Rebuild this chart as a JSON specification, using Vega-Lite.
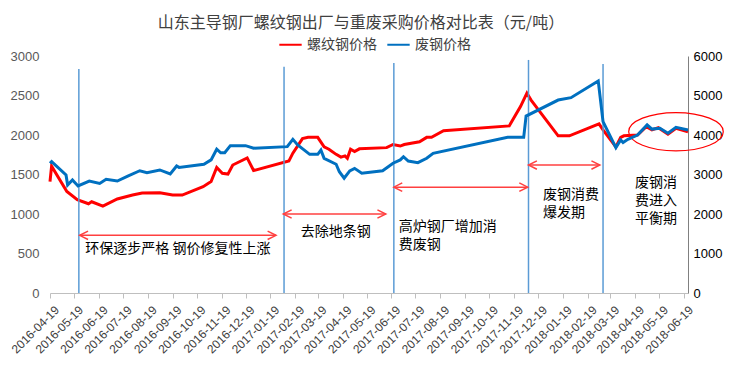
{
  "$schema": "https://vega.github.io/schema/vega-lite/v6.json",
  "autosize": {"type": "none"},
  "padding": {"left": 50, "top": 56, "right": 44, "bottom": 76},
  "width": 638,
  "height": 237,
  "background": "#ffffff",
  "title": {"text": "山东主导钢厂螺纹钢出厂与重废采购价格对比表（元/吨）", "fontSize": 16, "font": "Noto Sans CJK SC", "fontWeight": "normal", "color": "#404040", "anchor": "middle", "offset": 1, "dx": -8},
  "config": {
    "view": {"stroke": null},
    "axis": {"grid": false, "labelFont": "Liberation Sans", "labelOverlap": false},
    "legend": {"labelFont": "Noto Sans CJK SC"}
  },
  "datasets": {
    "rebar": [
      {"date": "2016-04-19", "price": 1410, "series": "螺纹钢价格"},
      {"date": "2016-04-21", "price": 1605, "series": "螺纹钢价格"},
      {"date": "2016-05-10", "price": 1285, "series": "螺纹钢价格"},
      {"date": "2016-05-23", "price": 1180, "series": "螺纹钢价格"},
      {"date": "2016-06-06", "price": 1130, "series": "螺纹钢价格"},
      {"date": "2016-06-10", "price": 1155, "series": "螺纹钢价格"},
      {"date": "2016-06-24", "price": 1100, "series": "螺纹钢价格"},
      {"date": "2016-07-12", "price": 1190, "series": "螺纹钢价格"},
      {"date": "2016-07-31", "price": 1240, "series": "螺纹钢价格"},
      {"date": "2016-08-12", "price": 1265, "series": "螺纹钢价格"},
      {"date": "2016-09-03", "price": 1270, "series": "螺纹钢价格"},
      {"date": "2016-09-19", "price": 1240, "series": "螺纹钢价格"},
      {"date": "2016-10-01", "price": 1240, "series": "螺纹钢价格"},
      {"date": "2016-10-27", "price": 1345, "series": "螺纹钢价格"},
      {"date": "2016-11-06", "price": 1410, "series": "螺纹钢价格"},
      {"date": "2016-11-13", "price": 1590, "series": "螺纹钢价格"},
      {"date": "2016-11-20", "price": 1515, "series": "螺纹钢价格"},
      {"date": "2016-11-27", "price": 1505, "series": "螺纹钢价格"},
      {"date": "2016-12-03", "price": 1620, "series": "螺纹钢价格"},
      {"date": "2016-12-21", "price": 1710, "series": "螺纹钢价格"},
      {"date": "2016-12-29", "price": 1550, "series": "螺纹钢价格"},
      {"date": "2017-02-11", "price": 1670, "series": "螺纹钢价格"},
      {"date": "2017-02-16", "price": 1770, "series": "螺纹钢价格"},
      {"date": "2017-02-28", "price": 1955, "series": "螺纹钢价格"},
      {"date": "2017-03-07", "price": 1970, "series": "螺纹钢价格"},
      {"date": "2017-03-19", "price": 1970, "series": "螺纹钢价格"},
      {"date": "2017-03-27", "price": 1850, "series": "螺纹钢价格"},
      {"date": "2017-04-02", "price": 1820, "series": "螺纹钢价格"},
      {"date": "2017-04-11", "price": 1755, "series": "螺纹钢价格"},
      {"date": "2017-04-17", "price": 1720, "series": "螺纹钢价格"},
      {"date": "2017-04-22", "price": 1735, "series": "螺纹钢价格"},
      {"date": "2017-04-25", "price": 1705, "series": "螺纹钢价格"},
      {"date": "2017-04-29", "price": 1820, "series": "螺纹钢价格"},
      {"date": "2017-05-04", "price": 1790, "series": "螺纹钢价格"},
      {"date": "2017-05-10", "price": 1825, "series": "螺纹钢价格"},
      {"date": "2017-06-13", "price": 1840, "series": "螺纹钢价格"},
      {"date": "2017-06-21", "price": 1880, "series": "螺纹钢价格"},
      {"date": "2017-06-30", "price": 1860, "series": "螺纹钢价格"},
      {"date": "2017-07-05", "price": 1880, "series": "螺纹钢价格"},
      {"date": "2017-07-24", "price": 1915, "series": "螺纹钢价格"},
      {"date": "2017-08-02", "price": 1970, "series": "螺纹钢价格"},
      {"date": "2017-08-08", "price": 1970, "series": "螺纹钢价格"},
      {"date": "2017-08-23", "price": 2055, "series": "螺纹钢价格"},
      {"date": "2017-11-13", "price": 2115, "series": "螺纹钢价格"},
      {"date": "2017-11-27", "price": 2360, "series": "螺纹钢价格"},
      {"date": "2017-12-05", "price": 2530, "series": "螺纹钢价格"},
      {"date": "2017-12-10", "price": 2445, "series": "螺纹钢价格"},
      {"date": "2018-01-13", "price": 1990, "series": "螺纹钢价格"},
      {"date": "2018-01-27", "price": 1990, "series": "螺纹钢价格"},
      {"date": "2018-03-05", "price": 2140, "series": "螺纹钢价格"},
      {"date": "2018-03-10", "price": 2065, "series": "螺纹钢价格"},
      {"date": "2018-03-26", "price": 1850, "series": "螺纹钢价格"},
      {"date": "2018-04-01", "price": 1970, "series": "螺纹钢价格"},
      {"date": "2018-04-05", "price": 1990, "series": "螺纹钢价格"},
      {"date": "2018-04-22", "price": 2000, "series": "螺纹钢价格"},
      {"date": "2018-05-03", "price": 2105, "series": "螺纹钢价格"},
      {"date": "2018-05-10", "price": 2065, "series": "螺纹钢价格"},
      {"date": "2018-05-18", "price": 2093, "series": "螺纹钢价格"},
      {"date": "2018-05-30", "price": 2010, "series": "螺纹钢价格"},
      {"date": "2018-06-09", "price": 2085, "series": "螺纹钢价格"},
      {"date": "2018-06-24", "price": 2040, "series": "螺纹钢价格"}
    ],
    "scrap": [
      {"date": "2016-04-19", "price": 3285, "series": "废钢价格"},
      {"date": "2016-04-21", "price": 3325, "series": "废钢价格"},
      {"date": "2016-05-09", "price": 2990, "series": "废钢价格"},
      {"date": "2016-05-11", "price": 2735, "series": "废钢价格"},
      {"date": "2016-05-17", "price": 2860, "series": "废钢价格"},
      {"date": "2016-05-24", "price": 2710, "series": "废钢价格"},
      {"date": "2016-06-07", "price": 2835, "series": "废钢价格"},
      {"date": "2016-06-20", "price": 2775, "series": "废钢价格"},
      {"date": "2016-06-28", "price": 2880, "series": "废钢价格"},
      {"date": "2016-07-12", "price": 2835, "series": "废钢价格"},
      {"date": "2016-07-25", "price": 2960, "series": "废钢价格"},
      {"date": "2016-08-09", "price": 3095, "series": "废钢价格"},
      {"date": "2016-08-18", "price": 3045, "series": "废钢价格"},
      {"date": "2016-09-03", "price": 3115, "series": "废钢价格"},
      {"date": "2016-09-16", "price": 3015, "series": "废钢价格"},
      {"date": "2016-09-24", "price": 3215, "series": "废钢价格"},
      {"date": "2016-09-27", "price": 3180, "series": "废钢价格"},
      {"date": "2016-10-28", "price": 3260, "series": "废钢价格"},
      {"date": "2016-11-06", "price": 3370, "series": "废钢价格"},
      {"date": "2016-11-13", "price": 3640, "series": "废钢价格"},
      {"date": "2016-11-18", "price": 3550, "series": "废钢价格"},
      {"date": "2016-11-23", "price": 3550, "series": "废钢价格"},
      {"date": "2016-11-30", "price": 3730, "series": "废钢价格"},
      {"date": "2016-12-19", "price": 3730, "series": "废钢价格"},
      {"date": "2016-12-29", "price": 3665, "series": "废钢价格"},
      {"date": "2017-02-09", "price": 3705, "series": "废钢价格"},
      {"date": "2017-02-16", "price": 3890, "series": "废钢价格"},
      {"date": "2017-02-22", "price": 3750, "series": "废钢价格"},
      {"date": "2017-03-09", "price": 3510, "series": "废钢价格"},
      {"date": "2017-03-19", "price": 3510, "series": "废钢价格"},
      {"date": "2017-03-23", "price": 3620, "series": "废钢价格"},
      {"date": "2017-03-27", "price": 3410, "series": "废钢价格"},
      {"date": "2017-04-11", "price": 3260, "series": "废钢价格"},
      {"date": "2017-04-15", "price": 3070, "series": "废钢价格"},
      {"date": "2017-04-21", "price": 2905, "series": "废钢价格"},
      {"date": "2017-04-28", "price": 3090, "series": "废钢价格"},
      {"date": "2017-05-04", "price": 3155, "series": "废钢价格"},
      {"date": "2017-05-13", "price": 3030, "series": "废钢价格"},
      {"date": "2017-06-08", "price": 3095, "series": "废钢价格"},
      {"date": "2017-06-21", "price": 3285, "series": "废钢价格"},
      {"date": "2017-06-30", "price": 3370, "series": "废钢价格"},
      {"date": "2017-07-04", "price": 3450, "series": "废钢价格"},
      {"date": "2017-07-10", "price": 3340, "series": "废钢价格"},
      {"date": "2017-07-22", "price": 3300, "series": "废钢价格"},
      {"date": "2017-08-02", "price": 3410, "series": "废钢价格"},
      {"date": "2017-08-10", "price": 3535, "series": "废钢价格"},
      {"date": "2017-11-11", "price": 3940, "series": "废钢价格"},
      {"date": "2017-12-01", "price": 3940, "series": "废钢价格"},
      {"date": "2017-12-04", "price": 4480, "series": "废钢价格"},
      {"date": "2018-01-13", "price": 4885, "series": "废钢价格"},
      {"date": "2018-01-29", "price": 4945, "series": "废钢价格"},
      {"date": "2018-03-04", "price": 5370, "series": "废钢价格"},
      {"date": "2018-03-10", "price": 4340, "series": "废钢价格"},
      {"date": "2018-03-26", "price": 3680, "series": "废钢价格"},
      {"date": "2018-04-01", "price": 3875, "series": "废钢价格"},
      {"date": "2018-04-04", "price": 3810, "series": "废钢价格"},
      {"date": "2018-04-10", "price": 3890, "series": "废钢价格"},
      {"date": "2018-04-22", "price": 4000, "series": "废钢价格"},
      {"date": "2018-05-04", "price": 4255, "series": "废钢价格"},
      {"date": "2018-05-10", "price": 4150, "series": "废钢价格"},
      {"date": "2018-05-20", "price": 4170, "series": "废钢价格"},
      {"date": "2018-05-30", "price": 4045, "series": "废钢价格"},
      {"date": "2018-06-09", "price": 4195, "series": "废钢价格"},
      {"date": "2018-06-24", "price": 4125, "series": "废钢价格"}
    ],
    "vlines": [
      {"date": "2016-05-25", "top": 2836, "base": 0},
      {"date": "2017-02-05", "top": 2865, "base": 0},
      {"date": "2017-06-22", "top": 2912, "base": 0},
      {"date": "2017-12-07", "top": 2950, "base": 0},
      {"date": "2018-03-10", "top": 2900, "base": 0}
    ],
    "arrows": [
      {"start": "2016-05-26", "end": "2017-01-26", "level": 730},
      {"start": "2017-02-04", "end": "2017-06-12", "level": 1000},
      {"start": "2017-06-22", "end": "2017-12-06", "level": 1340},
      {"start": "2017-12-07", "end": "2018-03-06", "level": 1620}
    ],
    "labels": [
      {"date": "2016-06-02", "level": 646, "label": "环保逐步严格 钢价修复性上涨"},
      {"date": "2017-02-26", "level": 865, "label": "去除地条钢"},
      {"date": "2017-06-28", "level": 928, "label": "高炉钢厂增加消\n费废钢"},
      {"date": "2017-12-25", "level": 1329, "label": "废钢消费\n爆发期"},
      {"date": "2018-04-19", "level": 1485, "label": "废钢消\n费进入\n平衡期"}
    ],
    "ellipse": [
      {"date": "2018-06-09", "level": 2042}
    ]
  },
  "layer": [
    {
      "layer": [
        {
          "data": {"name": "rebar"},
          "mark": {"type": "line", "strokeWidth": 3},
          "encoding": {
            "x": {
              "field": "date", "type": "temporal", "title": null,
              "scale": {"type": "utc", "domain": [{"year": 2016, "month": 4, "date": 19, "utc": true}, {"year": 2018, "month": 6, "date": 24, "utc": true}]},
              "axis": {
                "format": "%Y-%m-%d", "labelAngle": -45, "labelAlign": "right", "labelBaseline": "top",
                "labelFontSize": 12, "labelColor": "#404040", "labelPadding": 6, "labelOffset": 3, "labelOverlap": false, "tickCount": 40,
                "domainColor": "#bfbfbf", "tickColor": "#bfbfbf", "tickSize": 5,
                "values": [
                  {"year": 2016, "month": 4, "date": 19, "utc": true}, {"year": 2016, "month": 5, "date": 19, "utc": true},
                  {"year": 2016, "month": 6, "date": 19, "utc": true}, {"year": 2016, "month": 7, "date": 19, "utc": true},
                  {"year": 2016, "month": 8, "date": 19, "utc": true}, {"year": 2016, "month": 9, "date": 19, "utc": true},
                  {"year": 2016, "month": 10, "date": 19, "utc": true}, {"year": 2016, "month": 11, "date": 19, "utc": true},
                  {"year": 2016, "month": 12, "date": 19, "utc": true}, {"year": 2017, "month": 1, "date": 19, "utc": true},
                  {"year": 2017, "month": 2, "date": 19, "utc": true}, {"year": 2017, "month": 3, "date": 19, "utc": true},
                  {"year": 2017, "month": 4, "date": 19, "utc": true}, {"year": 2017, "month": 5, "date": 19, "utc": true},
                  {"year": 2017, "month": 6, "date": 19, "utc": true}, {"year": 2017, "month": 7, "date": 19, "utc": true},
                  {"year": 2017, "month": 8, "date": 19, "utc": true}, {"year": 2017, "month": 9, "date": 19, "utc": true},
                  {"year": 2017, "month": 10, "date": 19, "utc": true}, {"year": 2017, "month": 11, "date": 19, "utc": true},
                  {"year": 2017, "month": 12, "date": 19, "utc": true}, {"year": 2018, "month": 1, "date": 19, "utc": true},
                  {"year": 2018, "month": 2, "date": 19, "utc": true}, {"year": 2018, "month": 3, "date": 19, "utc": true},
                  {"year": 2018, "month": 4, "date": 19, "utc": true}, {"year": 2018, "month": 5, "date": 19, "utc": true},
                  {"year": 2018, "month": 6, "date": 19, "utc": true}
                ]
              }
            },
            "y": {
              "field": "price", "type": "quantitative", "title": null,
              "scale": {"domain": [0, 3000], "nice": false, "zero": true},
              "axis": {"orient": "left", "format": "d", "values": [0, 500, 1000, 1500, 2000, 2500, 3000], "tickCount": 20, "domain": false, "ticks": false, "labelPadding": 11, "labelFontSize": 13, "labelColor": "#595959"}
            },
            "color": {
              "field": "series", "type": "nominal",
              "scale": {"domain": ["螺纹钢价格", "废钢价格"], "range": ["#ff0000", "#0070c0"]},
              "legend": {"orient": "none", "direction": "horizontal", "legendX": 228, "legendY": -24, "title": null, "symbolType": "stroke", "symbolSize": 500, "symbolStrokeWidth": 2, "labelFontSize": 14, "labelColor": "#404040", "columnPadding": 6, "labelOffset": 4}
            }
          }
        },
        {
          "data": {"name": "vlines"},
          "mark": {"type": "rule", "color": "#5b9bd5", "strokeWidth": 1.5},
          "encoding": {
            "x": {"field": "date", "type": "temporal", "title": null},
            "y": {"field": "top", "type": "quantitative", "title": null},
            "y2": {"field": "base"}
          }
        },
        {
          "data": {"name": "arrows"},
          "mark": {"type": "rule", "color": "#ff4040", "strokeWidth": 1.5},
          "encoding": {
            "x": {"field": "start", "type": "temporal", "title": null},
            "x2": {"field": "end"},
            "y": {"field": "level", "type": "quantitative", "title": null}
          }
        },
        {
          "data": {"name": "arrows"},
          "mark": {"type": "point", "shape": "M1.2,-0.6L0,0L1.2,0.6", "filled": false, "stroke": "#ff4040", "strokeWidth": 1.5, "size": 196, "opacity": 1},
          "encoding": {
            "x": {"field": "start", "type": "temporal", "title": null},
            "y": {"field": "level", "type": "quantitative", "title": null}
          }
        },
        {
          "data": {"name": "arrows"},
          "mark": {"type": "point", "shape": "M-1.2,-0.6L0,0L-1.2,0.6", "filled": false, "stroke": "#ff4040", "strokeWidth": 1.5, "size": 196, "opacity": 1},
          "encoding": {
            "x": {"field": "end", "type": "temporal", "title": null},
            "y": {"field": "level", "type": "quantitative", "title": null}
          }
        },
        {
          "data": {"name": "labels"},
          "mark": {"type": "text", "align": "left", "baseline": "top", "font": "Noto Sans CJK SC", "fontSize": 14, "lineBreak": "\n", "lineHeight": 18, "color": "#000000"},
          "encoding": {
            "x": {"field": "date", "type": "temporal", "title": null},
            "y": {"field": "level", "type": "quantitative", "title": null},
            "text": {"field": "label"}
          }
        },
        {
          "data": {"name": "ellipse"},
          "mark": {"type": "point", "shape": "M-1,0A1,0.405,0,1,0,1,0A1,0.405,0,1,0,-1,0Z", "filled": false, "stroke": "#ff0000", "strokeWidth": 1.2, "size": 8950, "opacity": 1},
          "encoding": {
            "x": {"field": "date", "type": "temporal", "title": null},
            "y": {"field": "level", "type": "quantitative", "title": null}
          }
        }
      ]
    },
    {
      "data": {"name": "scrap"},
      "mark": {"type": "line", "strokeWidth": 3},
      "encoding": {
        "x": {"field": "date", "type": "temporal", "title": null},
        "y": {
          "field": "price", "type": "quantitative", "title": null,
          "scale": {"domain": [0, 6000], "nice": false},
          "axis": {"orient": "right", "format": "d", "values": [0, 1000, 2000, 3000, 4000, 5000, 6000], "tickCount": 20, "domain": true, "domainColor": "#808080", "ticks": false, "labelPadding": 5, "labelFontSize": 13, "labelColor": "#000000"}
        },
        "color": {"field": "series", "type": "nominal"}
      }
    }
  ],
  "resolve": {"scale": {"y": "independent"}}
}
